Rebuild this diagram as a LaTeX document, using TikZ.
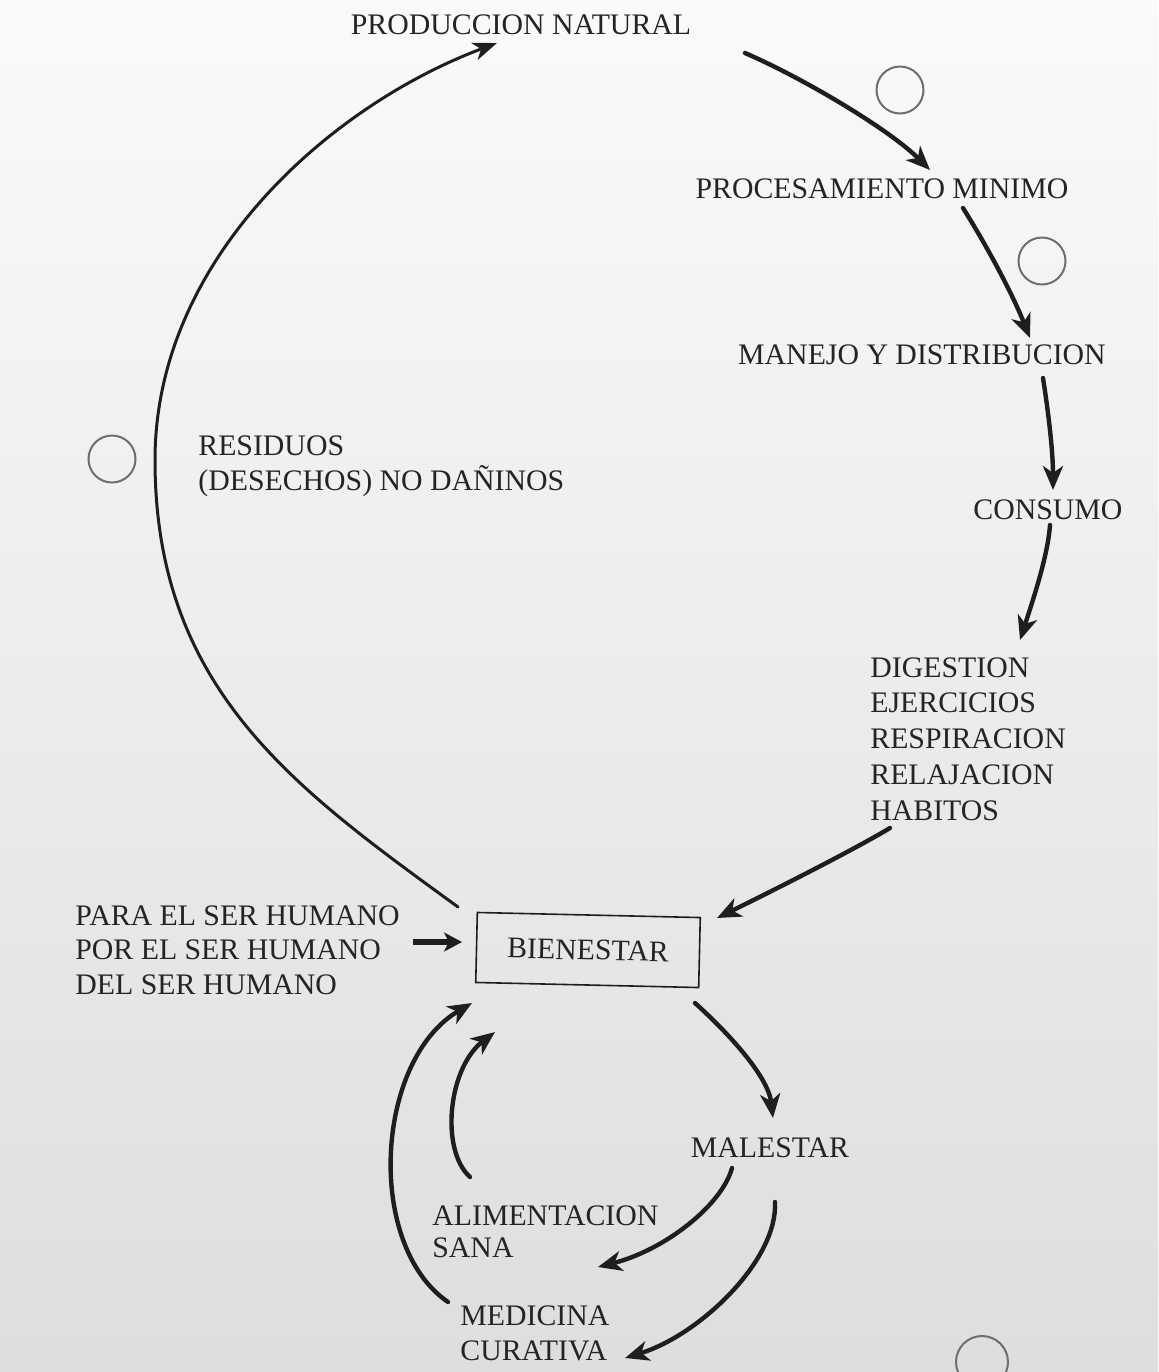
\documentclass[tikz,border=0pt]{standalone}
\usepackage{fontspec}
\setmainfont{Liberation Serif}
\usetikzlibrary{arrows.meta}
\definecolor{ink}{HTML}{1E1E1E}
\definecolor{txt}{HTML}{242424}
\definecolor{ring}{HTML}{6E6E6E}
\begin{document}
\begin{tikzpicture}[x=0.5pt,y=-0.5pt,
  lbl/.style={inner sep=0pt, text=txt, font=\fontsize{14.9}{17.5}\selectfont, text height=9.8pt, text depth=0pt},
  blk/.style={inner sep=0pt, text=txt, align=left, anchor=north west},
  flow/.style={draw=ink, line width=2.2pt, line cap=round, -{Stealth[length=12pt,width=10pt,inset=3.5pt]}},
  bigflow/.style={draw=ink, line width=1.5pt, line cap=round, -{Stealth[length=12pt,width=9pt,inset=3.5pt]}},
  fatflow/.style={draw=ink, line width=3pt, -{Stealth[length=9pt,width=9.5pt,inset=2.5pt]}},
  ringnode/.style={circle, draw=ring, line width=1pt, inner sep=0pt, minimum size=23.5pt}
]
\clip (0,0) rectangle (1158,1372);
\shade[top color=white!98!black, bottom color=white!87!black] (0,0) rectangle (1158,1372);

% text nodes
\node[lbl] (prod) at (521,25) {PRODUCCION NATURAL};
\node[lbl] (proc) at (882,189) {PROCESAMIENTO MINIMO};
\node[lbl] (manejo) at (922,355) {MANEJO Y DISTRIBUCION};
\node[lbl] (consumo) at (1048,510) {CONSUMO};
\node[blk, font=\fontsize{14.9}{17.9}\selectfont] (dig) at (870,657)
  {DIGESTION\\EJERCICIOS\\RESPIRACION\\RELAJACION\\HABITOS};
\node[blk, font=\fontsize{14.9}{17.5}\selectfont] (res) at (198,435)
  {RESIDUOS\\(DESECHOS) NO DAÑINOS};
\node[blk, font=\fontsize{14.9}{17.3}\selectfont] (para) at (75,905)
  {PARA EL SER HUMANO\\POR EL SER HUMANO\\DEL SER HUMANO};
\node[lbl, draw=ink, line width=0.8pt, minimum width=111.5pt, minimum height=35pt, rotate=-1.3] (bien) at (588,950) {BIENESTAR};
\node[lbl] (mal) at (770,1148) {MALESTAR};
\node[blk, font=\fontsize{14.9}{16}\selectfont] (ali) at (432,1205) {ALIMENTACION\\SANA};
\node[blk, font=\fontsize{14.9}{17.5}\selectfont] (med) at (460,1305) {MEDICINA\\CURATIVA};

% empty circles
\node[ringnode] (c1) at (900,90) {};
\node[ringnode] (c2) at (1042,261) {};
\node[ringnode] (c3) at (112,459) {};
\node[ringnode, minimum size=26pt] (c4) at (982,1362) {};

% main cycle
\draw[bigflow] ([shift={(-130,-43)}]bien.center)
  .. controls (296,789) and (155,690) .. (155,460)
  .. controls (155,260) and (329,106) .. ([shift={(-24,18)}]prod.center);
\draw[flow] ([shift={(224,28)}]prod.center) .. controls (805,79) and (890,130) .. ([shift={(48,-19)}]proc.center);
\draw[flow] ([shift={(81,19)}]proc.center) .. controls (988,248) and (1012,293) .. ([shift={(108,-17)}]manejo.center);
\draw[flow] ([shift={(121,23)}]manejo.center) .. controls (1048,410) and (1053,450) .. ([shift={(5,-20)}]consumo.center);
\draw[flow] ([shift={(2,15)}]consumo.center) .. controls (1048,555) and (1033,600) .. ([shift={(150,-17)}]dig.north west);
\draw[flow] ([shift={(20,171)}]dig.north west) .. controls (850,852) and (760,897) .. ([shift={(129,-32)}]bien.center);
\draw[fatflow] ([shift={(338,37)}]para.north west) -- ([shift={(-126,-8)}]bien.center);

% lower cycle
\draw[flow] ([shift={(107,53)}]bien.center) .. controls (725,1030) and (768,1075) .. ([shift={(3,-30)}]mal.center);
\draw[flow] ([shift={(-38,20)}]mal.center) .. controls (722,1205) and (665,1250) .. ([shift={(166,62)}]ali.north west);
\draw[flow] ([shift={(5,54)}]mal.center) .. controls (778,1260) and (700,1335) .. ([shift={(165,53)}]med.north west);
\draw[flow] ([shift={(38,-28)}]ali.north west) .. controls (440,1150) and (448,1068) .. ([shift={(-93,82)}]bien.center);
\draw[flow] ([shift={(-12,-3)}]med.north west) .. controls (365,1245) and (375,1060) .. ([shift={(-116,53)}]bien.center);
\end{tikzpicture}
\end{document}
